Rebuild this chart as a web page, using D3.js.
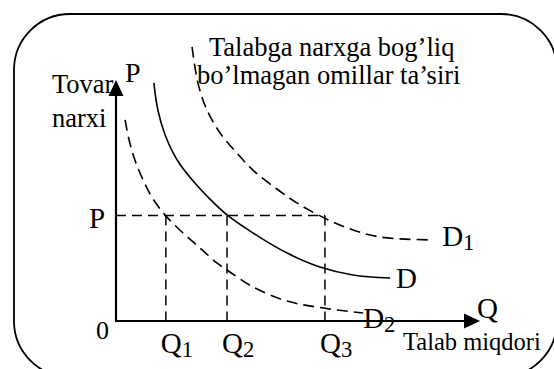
<!DOCTYPE html>
<head>
  <meta charset="utf-8">
  <script src="https://d3js.org/d3.v7.min.js"></script>
  <style>
    body { margin:0; background:#fff; }
    text { font-family: "Liberation Serif", "Times New Roman", serif; fill:#000; }
  </style>
</head>
<body>
<script>

// demand curves (Q along, P up)
var dQ  = [1.04, 1.15, 1.35, 1.68, 2.12, 2.58, 3.05, 3.76, 4.70, 5.60, 6.51, 7.53];
var dP  = [9.92, 8.79, 7.75, 6.71, 5.83, 5.08, 4.42, 3.67, 2.83, 2.25, 1.92, 1.79];
var d1Q = [2.09, 2.25, 2.50, 2.86, 3.32, 3.76, 4.42, 4.97, 5.58, 6.35, 7.25, 8.63];
var d1P = [11.42, 9.92, 8.79, 7.83, 7.00, 6.29, 5.50, 4.92, 4.40, 3.88, 3.50, 3.38];
var d2Q = [0.25, 0.36, 0.52, 0.77, 1.02, 1.37, 1.84, 2.31, 2.77, 3.13, 3.76, 4.70, 5.69, 6.79];
var d2P = [8.38, 7.54, 6.71, 5.79, 5.08, 4.38, 3.67, 3.04, 2.42, 2.04, 1.42, 0.83, 0.54, 0.33];

var priceP = 4.4;
var qTicks = ["1", "2", "3"];          // subscripts of Q
var qVals  = [1.37, 3.05, 5.74];

var width = 554, height = 369;

var x = d3.scaleLinear().domain([0, 10]).range([116, 480]);
var y = d3.scaleLinear().domain([0, 10]).range([321, 81]);

var svg = d3.select("body").append("svg")
  .attr("width", width)
  .attr("height", height);

// frame
svg.append("rect")
  .attr("x", 14).attr("y", 14)
  .attr("width", 543).attr("height", 363)
  .attr("rx", 56).attr("ry", 56)
  .style("fill", "none")
  .style("stroke", "#000")
  .style("stroke-width", 1.8);

var straight = d3.line()
  .x(function(d) { return x(d[0]); })
  .y(function(d) { return y(d[1]); });

var line = d3.line()
  .x(function(d) { return x(d[0]); })
  .y(function(d) { return y(d[1]); })
  .curve(d3.curveCatmullRom.alpha(0.5));

function pts(qs, ps) { return qs.map(function(q, i) { return [q, ps[i]]; }); }

// guide lines
svg.append("path")
  .attr("d", straight([[0, priceP], [qVals[2], priceP]]))
  .style("fill", "none").style("stroke", "#000").style("stroke-width", 1.5)
  .style("stroke-dasharray", "10,6");

qVals.forEach(function(q) {
  svg.append("path")
    .attr("d", straight([[q, priceP], [q, 0]]))
    .style("fill", "none").style("stroke", "#000").style("stroke-width", 1.5)
    .style("stroke-dasharray", "10,6");
});

// curves
svg.append("path").attr("d", line(pts(dQ, dP)))
  .style("fill", "none").style("stroke", "#000").style("stroke-width", 1.6);
svg.append("path").attr("d", line(pts(d1Q, d1P)))
  .style("fill", "none").style("stroke", "#000").style("stroke-width", 1.6)
  .style("stroke-dasharray", "11,6");
svg.append("path").attr("d", line(pts(d2Q, d2P)))
  .style("fill", "none").style("stroke", "#000").style("stroke-width", 1.6)
  .style("stroke-dasharray", "11,6");

// axes
var x0 = x(0), y0 = y(0);
svg.append("line")
  .attr("x1", x0).attr("y1", y0).attr("x2", x0).attr("y2", 95)
  .style("stroke", "#000").style("stroke-width", 2.2);
svg.append("line")
  .attr("x1", x0 - 1).attr("y1", y0).attr("x2", 466).attr("y2", y0)
  .style("stroke", "#000").style("stroke-width", 2.2);
svg.append("path")
  .attr("d", "M" + x0 + ",80L" + (x0 - 7.5) + ",96L" + (x0 + 7.5) + ",96Z")
  .style("fill", "#000");
svg.append("path")
  .attr("d", "M480," + y0 + "L464," + (y0 - 7.5) + "L464," + (y0 + 7.5) + "Z")
  .style("fill", "#000");

// texts
function label(tx, ty, str, size, sub) {
  var t = svg.append("text").attr("x", tx).attr("y", ty)
    .style("font-size", size + "px").text(str);
  if (sub) {
    t.append("tspan").attr("dy", 4).style("font-size", (size * 0.78) + "px").text(sub);
  }
  return t;
}

label(209, 56, "Talabga narxga bog\u2019liq", 26.5);
label(197, 84, "bo\u2019lmagan omillar ta\u2019siri", 26.5);
label(52, 93, "Tovar", 26.5);
label(52, 127, "narxi", 26.5);
label(125, 82, "P", 28);
label(89, y(priceP) + 13, "P", 29);
label(96, 339, "0", 26);

qVals.forEach(function(q, i) {
  label(x(q) - 5, 353, "Q", 29, qTicks[i]);
});

label(x(d1Q[d1Q.length - 1]) + 12, y(d1P[d1P.length - 1]) + 6, "D", 29, "1");
label(x(dQ[dQ.length - 1]) + 6, y(dP[dP.length - 1]) + 10, "D", 29);
label(x(d2Q[d2Q.length - 1]) + 0, y(d2P[d2P.length - 1]) + 15, "D", 29, "2");
label(477, 318, "Q", 29);
label(403, 350, "Talab miqdori", 24.5);

</script>
</body>
